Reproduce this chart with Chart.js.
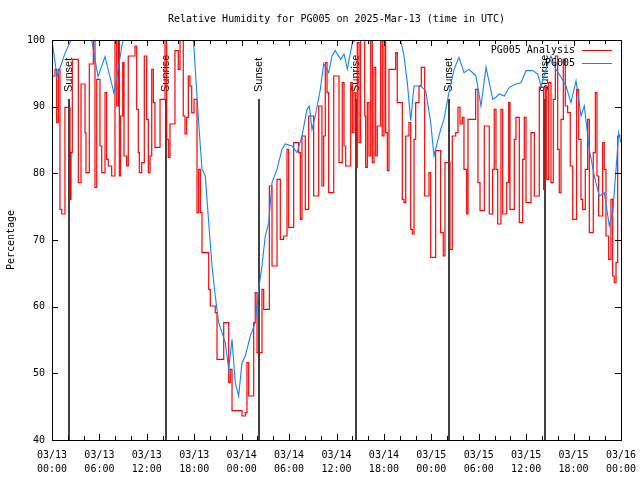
<!DOCTYPE html>
<html>
<head>
<meta charset="utf-8">
<script src="https://cdn.jsdelivr.net/npm/chart.js@4/dist/chart.umd.min.js"></script>
<style>
  body { margin: 0; background: #fff; }
</style>
</head>
<body>
<canvas id="rh" width="640" height="480"></canvas>
<script>
// hours since 03/13 00:00 UTC
const xTickLabels = [
  ['03/13', '00:00'], ['03/13', '06:00'], ['03/13', '12:00'], ['03/13', '18:00'],
  ['03/14', '00:00'], ['03/14', '06:00'], ['03/14', '12:00'], ['03/14', '18:00'],
  ['03/15', '00:00'], ['03/15', '06:00'], ['03/15', '12:00'], ['03/15', '18:00'],
  ['03/16', '00:00']
];

const sunHours = [2.19, 14.47, 26.23, 38.51, 50.28, 62.42];
const sunLabels = ['Sunset', 'Sunrise', 'Sunset', 'Sunrise', 'Sunset', 'Sunrise'];

// PG005 (observed)
const obsHours = [0, 0.63, 1.64, 2.40, 5.02, 5.82, 6.71, 7.85, 8.98, 17.84,
  17.93, 18.13, 18.56, 18.98, 19.40, 19.83, 20.25, 20.66, 21.09, 21.93,
  22.36, 22.78, 23.19, 23.62, 24.04, 24.46, 25.09, 25.72, 26.15, 26.57,
  26.99, 27.42, 27.84, 28.47, 29.10, 29.52, 30.37, 31.00, 31.63, 32.27,
  32.56, 32.90, 33.32, 33.95, 34.38, 35.01, 35.43, 35.85, 36.53, 36.95,
  37.37, 38.00, 38.43, 44.12, 44.54, 44.96, 45.39, 45.81, 46.65, 47.29,
  47.92, 48.34, 48.75, 49.18, 49.60, 50.23, 50.87, 51.50, 52.13, 52.76,
  53.40, 53.65, 54.28, 54.92, 55.33, 55.76, 56.18, 56.60, 57.23, 57.87,
  58.71, 59.35, 59.98, 60.83, 61.46, 61.88, 62.51, 63.14, 63.78, 64.41,
  65.04, 65.67, 66.31, 66.94, 67.36, 67.99, 68.62, 69.25, 69.89, 70.52,
  70.95, 71.37, 71.71, 72.0];
const obsRH = [100, 94.5, 98, 100, 100, 94.5, 97.5, 92, 100, 100,
  99.6, 95.6, 87.6, 80.6, 79.6, 72.6, 66.1, 61.6, 57.6, 54.6,
  50.6, 55.1, 48.6, 46.6, 51.6, 52.6, 55.6, 57.6, 62.6, 66.1,
  70.6, 72.6, 78.6, 80.6, 83.6, 84.4, 84.1, 83.1, 85.6, 89.6,
  90.1, 86.6, 88.6, 92.6, 96.4, 95.1, 97.6, 98.4, 97.1, 97.9,
  95.6, 99.6, 100, 100, 97.6, 93.6, 87.9, 93.1, 93.1, 92.4,
  87.6, 82.6, 84.6, 86.6, 88.1, 92.1, 95.6, 97.4, 95.1, 95.6,
  94.9, 94.6, 90.1, 95.9, 93.6, 91.1, 91.4, 91.9, 91.6, 92.9,
  93.4, 93.6, 95.4, 95.4, 94.9, 93.1, 95.6, 97.6, 95.6, 94.4,
  93.1, 90.6, 93.9, 88.6, 90.1, 83.6, 79.6, 76.6, 77.1, 72.1,
  74.1, 80.6, 86.1, 84.6];

// PG005 Analysis
const anaHours = [0, 0.38, 0.59, 0.80, 1.01, 1.23, 1.64, 2.28, 2.40, 2.57,
  3.33, 3.67, 4.18, 4.30, 4.72, 5.23, 5.44, 5.66, 6.07, 6.29,
  6.71, 6.92, 7.12, 7.55, 7.97, 8.19, 8.39, 8.52, 8.69, 8.95,
  9.11, 9.45, 9.65, 10.50, 10.72, 10.92, 11.05, 11.35, 11.68, 11.98,
  12.19, 12.40, 12.62, 12.82, 13.03, 13.67, 14.30, 14.51, 14.72, 14.93,
  15.56, 15.98, 16.20, 16.61, 16.83, 17.04, 17.25, 17.46, 17.68, 17.97,
  18.35, 18.56, 18.77, 18.98, 19.83, 20.03, 20.66, 20.88, 21.73, 22.36,
  22.56, 22.78, 24.04, 24.46, 24.67, 24.89, 25.52, 25.72, 25.94, 26.57,
  26.79, 27.50, 27.84, 28.47, 28.89, 29.32, 29.74, 29.95, 30.58, 31.22,
  31.42, 31.63, 32.05, 32.48, 33.11, 33.75, 34.16, 34.38, 34.58, 34.80,
  35.01, 35.65, 36.32, 36.73, 36.95, 37.16, 37.80, 38.00, 38.21, 38.43,
  38.63, 38.85, 39.06, 39.57, 39.69, 39.90, 40.11, 40.33, 40.53, 40.74,
  40.96, 41.16, 41.59, 41.79, 42.01, 42.22, 42.43, 42.64, 43.49, 43.69,
  44.33, 44.54, 44.76, 45.17, 45.39, 45.59, 45.81, 46.02, 46.44, 46.73,
  47.16, 47.70, 47.92, 48.55, 49.18, 49.51, 49.73, 50.36, 50.65, 51.08,
  51.37, 51.63, 51.92, 52.13, 52.47, 52.64, 53.61, 53.90, 54.16, 54.70,
  55.33, 55.76, 55.96, 56.18, 56.40, 56.81, 57.03, 57.54, 57.79, 57.95,
  58.50, 58.71, 59.13, 59.56, 59.76, 59.98, 60.61, 61.03, 61.66, 62.21,
  62.42, 62.60, 62.85, 63.14, 63.43, 63.69, 63.99, 64.19, 64.41, 64.70,
  64.95, 65.25, 65.58, 65.89, 66.39, 66.65, 66.94, 67.15, 67.48, 67.78,
  67.99, 68.49, 68.75, 68.96, 69.17, 69.68, 69.88, 70.10, 70.44, 70.73,
  70.95, 71.15, 71.37, 71.58, 72.0];
const anaRH = [94.6, 95.6, 87.6, 95.6, 74.6, 73.9, 89.9, 76.1, 83.1, 97.1,
  78.6, 93.4, 86.1, 80.1, 96.4, 100, 77.9, 94.1, 84.1, 80.1,
  92.1, 82.1, 81.1, 79.6, 100, 90.1, 100, 79.6, 88.6, 96.6,
  82.6, 81.1, 97.6, 99.1, 89.6, 83.1, 80.1, 81.6, 97.6, 88.1,
  80.1, 82.6, 95.6, 90.6, 83.9, 91.1, 100, 85.1, 82.4, 87.4,
  98.4, 95.6, 100, 88.6, 85.9, 88.4, 94.6, 93.1, 89.1, 91.1,
  74.1, 80.6, 74.1, 68.1, 62.6, 60.1, 59.1, 52.1, 57.6, 48.6,
  50.6, 44.4, 43.6, 44.1, 51.6, 46.6, 57.6, 62.1, 53.1, 62.6,
  59.6, 78.1, 66.1, 79.1, 70.1, 70.6, 83.6, 71.9, 84.6, 83.1,
  73.1, 85.6, 74.6, 88.6, 76.6, 90.1, 78.1, 85.6, 96.6, 92.1,
  77.1, 94.6, 81.6, 93.6, 84.1, 81.1, 93.6, 86.1, 92.1, 80.9,
  99.6, 84.6, 100, 88.6, 80.9, 90.6, 82.6, 100, 81.6, 95.9,
  82.6, 87.1, 100, 85.6, 100, 86.1, 80.4, 95.6, 98.1, 90.6,
  76.1, 75.6, 85.6, 87.6, 71.6, 70.9, 85.1, 90.6, 93.1, 95.9,
  76.6, 80.1, 67.4, 83.4, 71.1, 67.6, 81.6, 68.6, 85.6, 86.1,
  89.9, 87.4, 88.4, 80.6, 73.9, 88.1, 92.6, 78.6, 74.4, 87.1,
  73.9, 80.6, 89.6, 80.6, 72.4, 89.6, 73.9, 78.6, 90.6, 74.6,
  85.1, 88.4, 72.6, 82.1, 88.4, 75.6, 86.1, 76.6, 92.9, 77.6,
  92.9, 79.1, 93.6, 78.6, 91.1, 97.6, 83.6, 77.1, 88.1, 97.1,
  90.1, 89.1, 81.1, 73.1, 92.6, 85.1, 76.1, 74.6, 80.6, 88.1,
  71.1, 83.1, 92.1, 79.6, 73.6, 84.6, 80.6, 70.6, 67.1, 76.1,
  64.6, 63.6, 66.6, 85.6, 85.6];

const monoFont = '"DejaVu Sans Mono", "Liberation Mono", monospace';
const red = '#ff0000';
const blue = '#1482ff';

// sunrise / sunset markers, under the data
const sunLines = {
  id: 'sunLines',
  beforeDatasetsDraw(chart) {
    const ctx = chart.ctx;
    const x = chart.scales.x;
    const area = chart.chartArea;
    ctx.save();
    ctx.strokeStyle = '#000';
    ctx.lineWidth = 1.5;
    ctx.fillStyle = '#000';
    ctx.font = '11px "Liberation Sans", Arial, sans-serif';
    sunHours.forEach((h, i) => {
      const px = Math.round(x.getPixelForValue(h));
      ctx.beginPath();
      ctx.moveTo(px, 99);
      ctx.lineTo(px, area.bottom);
      ctx.stroke();
      ctx.save();
      ctx.translate(px, 92);
      ctx.rotate(-Math.PI / 2);
      ctx.textAlign = 'left';
      ctx.textBaseline = 'middle';
      ctx.fillText(sunLabels[i], 0, 0);
      ctx.restore();
    });
    ctx.restore();
  }
};

// gnuplot style frame, inward ticks, key and titles
const frame = {
  id: 'frame',
  afterDatasetsDraw(chart) {
    const ctx = chart.ctx;
    const a = chart.chartArea;
    const xs = chart.scales.x;
    const ys = chart.scales.y;
    ctx.save();
    ctx.strokeStyle = '#000';
    ctx.lineWidth = 1;
    ctx.strokeRect(a.left + 0.5, a.top + 0.5, a.right - a.left, a.bottom - a.top);

    ctx.beginPath();
    xs.ticks.forEach(t => {
      const px = Math.round(xs.getPixelForValue(t.value)) + 0.5;
      const len = t.value % 6 === 0 ? 6 : 4;
      ctx.moveTo(px, a.bottom);
      ctx.lineTo(px, a.bottom - len);
      ctx.moveTo(px, a.top);
      ctx.lineTo(px, a.top + len);
    });
    ys.ticks.forEach(t => {
      const py = Math.round(ys.getPixelForValue(t.value)) + 0.5;
      ctx.moveTo(a.left, py);
      ctx.lineTo(a.left + 6, py);
      ctx.moveTo(a.right, py);
      ctx.lineTo(a.right - 6, py);
    });
    ctx.stroke();

    ctx.fillStyle = '#000';
    ctx.font = '10px ' + monoFont;
    ctx.textBaseline = 'middle';
    ctx.textAlign = 'center';
    ctx.fillText('Relative Humidity for PG005 on 2025-Mar-13 (time in UTC)', (a.left + a.right) / 2, 19);

    ctx.save();
    ctx.translate(11, (a.top + a.bottom) / 2);
    ctx.rotate(-Math.PI / 2);
    ctx.fillText('Percentage', 0, 0);
    ctx.restore();

    // key
    ctx.textAlign = 'right';
    chart.data.datasets.forEach((ds, i) => {
      const y = 50 + i * 13;
      ctx.fillText(ds.label, 575, y);
      ctx.strokeStyle = ds.borderColor;
      ctx.beginPath();
      ctx.moveTo(582, y + 0.5);
      ctx.lineTo(612, y + 0.5);
      ctx.stroke();
    });
    ctx.restore();
  }
};

new Chart(document.getElementById('rh'), {
  type: 'line',
  data: {
    datasets: [{
      label: 'PG005 Analysis',
      data: anaHours.map((h, i) => ({ x: h, y: anaRH[i] })),
      borderColor: red,
      borderWidth: 1.2,
      stepped: true,
      pointRadius: 0,
      fill: false,
      order: 1
    }, {
      label: 'PG005',
      data: obsHours.map((h, i) => ({ x: h, y: obsRH[i] })),
      borderColor: blue,
      borderWidth: 1.1,
      tension: 0,
      pointRadius: 0,
      fill: false,
      order: 0
    }]
  },
  options: {
    responsive: false,
    animation: false,
    devicePixelRatio: 1,
    layout: { padding: { top: 40, right: 19, left: 0, bottom: 0 } },
    plugins: { legend: { display: false }, tooltip: { enabled: false } },
    scales: {
      x: {
        type: 'linear',
        min: 0,
        max: 72,
        afterFit: s => { s.height = 40; s.paddingLeft = 0; s.paddingRight = 0; },
        grid: { display: false, drawTicks: false },
        border: { display: false },
        ticks: {
          stepSize: 2,
          autoSkip: false,
          maxRotation: 0,
          padding: 8,
          color: '#000',
          font: { family: monoFont, size: 10, lineHeight: 1.4 },
          callback: v => (v % 6 === 0 ? xTickLabels[v / 6] : '')
        }
      },
      y: {
        min: 40,
        max: 100,
        afterFit: s => { s.width = 52; s.paddingTop = 0; s.paddingBottom = 0; },
        grid: { display: false, drawTicks: false },
        border: { display: false },
        ticks: {
          stepSize: 10,
          padding: 7,
          color: '#000',
          font: { family: monoFont, size: 10 }
        }
      }
    }
  },
  plugins: [sunLines, frame]
});
</script>
</body>
</html>
